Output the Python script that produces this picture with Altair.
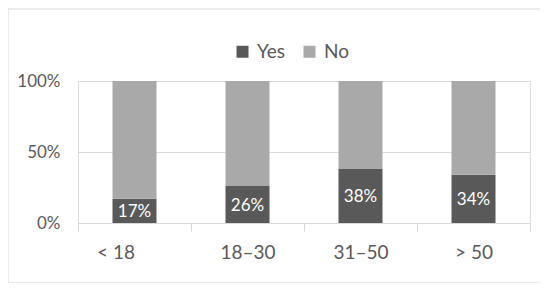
import altair as alt
import pandas as pd

categories = ["< 18", "18–30", "31–50", "> 50"]
yes_values = [17, 26, 38, 34]
no_values = [83, 74, 62, 66]
series = ["Yes", "No"]
colors = ["#595959", "#a9a9a9"]

rows = []
for c, y, n in zip(categories, yes_values, no_values):
    rows.append({"cat": c, "series": "Yes", "val": y / 100, "ord": 0, "label": f"{y}%", "mid": y / 200})
    rows.append({"cat": c, "series": "No", "val": n / 100, "ord": 1, "label": "", "mid": 0})
df = pd.DataFrame(rows)

FONT = "Lato"
GRAY = "#595959"

xenc = alt.X("cat:N", sort=categories, title=None,
             scale=alt.Scale(paddingInner=0, paddingOuter=0),
             axis=alt.Axis(labelAngle=0, labelFontSize=19, labelColor=GRAY, labelFont=FONT,
                           labelAlign={"condition": {"test": "datum.value == '< 18'", "value": "right"},
                                       "value": "center"},
                           tickBand="extent", tickColor="#d9d9d9", tickSize=8,
                           domainColor="#d9d9d9", labelPadding=12, grid=False))

bars = alt.Chart(df).mark_bar(size=44).encode(
    x=xenc,
    y=alt.Y("val:Q", stack="zero", title=None,
            scale=alt.Scale(domain=[0, 1]),
            axis=alt.Axis(values=[0, 0.5, 1], format=".0%", labelFontSize=17, labelColor=GRAY,
                          labelFont=FONT, ticks=False, domain=False, gridColor="#d9d9d9",
                          labelPadding=18)),
    color=alt.Color("series:N", sort=series, scale=alt.Scale(domain=series, range=colors),
                    legend=alt.Legend(title=None, orient="none", direction="horizontal",
                                      legendX=155, legendY=-39, labelFontSize=19, labelColor=GRAY,
                                      labelFont=FONT, symbolType="square", symbolSize=144,
                                      symbolStrokeWidth=0, columnPadding=14, labelOffset=5)),
    order=alt.Order("ord:Q", sort="ascending"),
)

labels = alt.Chart(df[df["series"] == "Yes"]).mark_text(color="white", fontSize=17, font=FONT, dy=1).encode(
    x=alt.X("cat:N", sort=categories),
    y=alt.Y("mid:Q"),
    text="label:N",
)

border = alt.Chart(pd.DataFrame({"a": [0]})).mark_rect(fill=None, stroke="#d9d9d9", strokeWidth=1).encode(
    x=alt.value(-70), x2=alt.value(463), y=alt.value(-72), y2=alt.value(202)
)

chart = alt.layer(border, bars, labels).properties(
    width=452, height=142,
    autosize=alt.AutoSizeParams(type="none"),
    padding={"left": 70, "top": 73, "right": 10, "bottom": 60},
).configure_view(stroke=None).configure(background="white")

chart.save("out.html", embed_options={"renderer": "svg", "actions": False})
